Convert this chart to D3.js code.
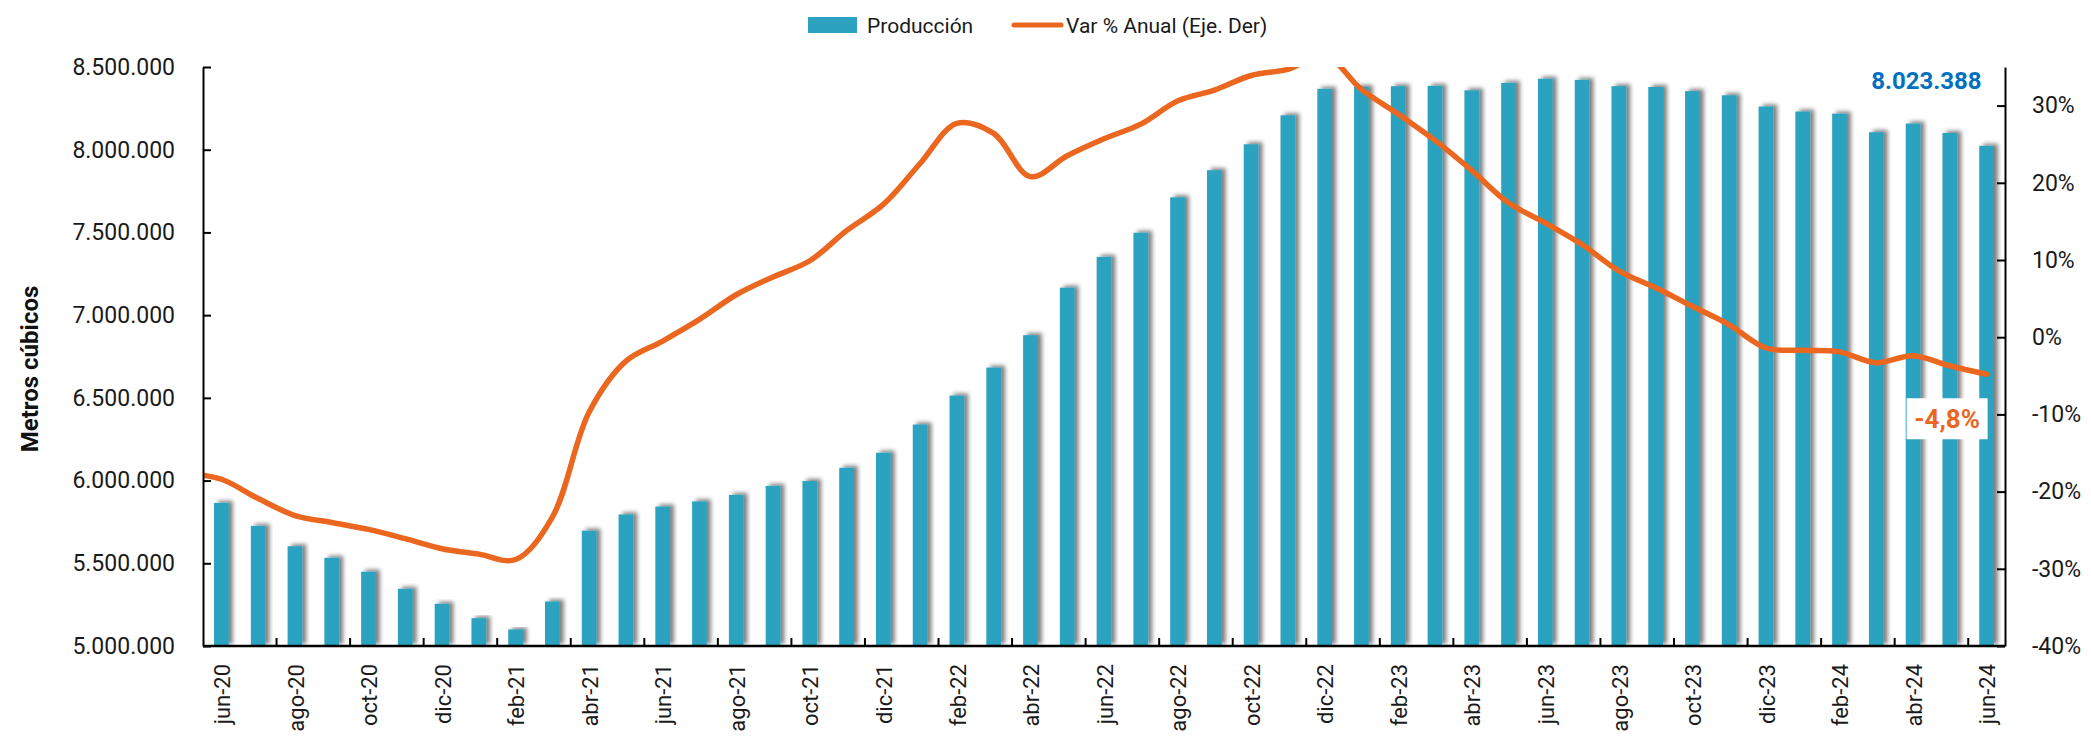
<!DOCTYPE html>
<html><head><meta charset="utf-8">
<script src="https://cdn.jsdelivr.net/npm/d3@7"></script>
<style>
html,body{margin:0;padding:0;background:#fff;}
svg{display:block;}
text{font-family:Roboto, "DejaVu Sans", sans-serif;}
</style></head>
<body>
<svg id="chart" width="2091" height="737"></svg>
<script>
const months = ["jun-20","jul-20","ago-20","sep-20","oct-20","nov-20","dic-20","ene-21","feb-21","mar-21","abr-21","may-21",
"jun-21","jul-21","ago-21","sep-21","oct-21","nov-21","dic-21","ene-22","feb-22","mar-22","abr-22","may-22",
"jun-22","jul-22","ago-22","sep-22","oct-22","nov-22","dic-22","ene-23","feb-23","mar-23","abr-23","may-23",
"jun-23","jul-23","ago-23","sep-23","oct-23","nov-23","dic-23","ene-24","feb-24","mar-24","abr-24","may-24","jun-24"];

const produccion = [5865000,5726000,5603000,5533000,5449000,5346000,5255000,5168000,5100000,5269000,5697000,5795000,
5843000,5874000,5913000,5968000,5997000,6077000,6168000,6339000,6514000,6683000,6879000,7166000,
7352000,7498000,7712000,7876000,8033000,8208000,8368000,8379000,8384000,8386000,8359000,8404000,
8429000,8422000,8384000,8379000,8354000,8329000,8261000,8231000,8218000,8106000,8158000,8101000,8023388];

// previous month (may-20), only partly visible at the left edge of the plot
const varAnualPrev = -17.6;
const varAnual = [-18.4,-20.9,-23.1,-24.0,-24.9,-26.1,-27.4,-28.1,-28.8,-23.3,-9.7,-3.1,
-0.5,2.3,5.5,7.8,9.9,13.8,17.2,22.5,27.7,26.4,20.8,23.5,
25.7,27.6,30.6,32.0,33.9,34.7,36.5,32.1,28.9,25.5,21.6,17.4,
14.8,12.0,8.6,6.4,4.0,1.6,-1.4,-1.7,-1.9,-3.3,-2.4,-3.7,-4.8];

const leftTicks = [5000000,5500000,6000000,6500000,7000000,7500000,8000000,8500000];
const rightTicks = [-40,-30,-20,-10,0,10,20,30];
const xLabelMonths = months.filter((d,i)=>i%2===0);

const legendItems = ["Producción","Var % Anual (Eje. Der)"];
const yTitle = "Metros cúbicos";
const lastValueLabel = "8.023.388";
const lastVarLabel = "-4,8%";

const barColor = "#2CA2C0";
const lineColor = "#EB661E";
const textColor = "#1a1a1a";

const M = {left:203, right:2005, top:67, bottom:646};

const svg = d3.select("#chart");

const defs = svg.append("defs");
const f = defs.append("filter").attr("id","shadow").attr("x","-50%").attr("y","-10%").attr("width","200%").attr("height","120%");
f.append("feDropShadow").attr("dx",4).attr("dy",-2).attr("stdDeviation",2.2)
  .attr("flood-color","#000").attr("flood-opacity",0.5);
defs.append("clipPath").attr("id","plotclip").append("rect")
  .attr("x",M.left).attr("y",M.top).attr("width",M.right-M.left).attr("height",M.bottom-M.top);

const x = d3.scaleBand().domain(months).range([M.left,M.right]).paddingInner(0.6).paddingOuter(0.3);
const yL = d3.scaleLinear().domain([5000000,8500000]).range([M.bottom,M.top]);
const yR = d3.scaleLinear().domain([-40,35]).range([M.bottom,M.top]);

const fmtL = d => d3.format(",")(d).replace(/,/g,".");
const fmtR = d => d + "%";

// bars
svg.append("g").selectAll("rect").data(produccion).join("rect")
  .attr("x",(d,i)=>x(months[i]))
  .attr("y",d=>yL(d))
  .attr("width",x.bandwidth())
  .attr("height",d=>yL(5000000)-yL(d))
  .attr("fill",barColor)
  .attr("filter","url(#shadow)");

// line (with the previous month one step to the left of jun-20)
const lineData = [varAnualPrev].concat(varAnual);
const cx0 = x(months[0]) + x.bandwidth()/2;
const line = d3.line()
  .x((d,i)=>cx0 + (i-1)*x.step())
  .y(d=>yR(d))
  .curve(d3.curveCatmullRom.alpha(0.5));
svg.append("path").datum(lineData)
  .attr("d",line)
  .attr("fill","none")
  .attr("stroke",lineColor)
  .attr("stroke-width",5.5)
  .attr("stroke-linejoin","round")
  .attr("stroke-linecap","round")
  .attr("clip-path","url(#plotclip)");

// left axis
const axL = d3.axisLeft(yL).tickValues(leftTicks).tickFormat(fmtL).tickSizeInner(-8).tickSizeOuter(0).tickPadding(28);
const gL = svg.append("g").attr("transform",`translate(${M.left},0)`).call(axL);
gL.select(".domain").attr("stroke","#000").attr("stroke-width",2);
gL.selectAll(".tick line").attr("stroke","#000").attr("stroke-width",2);
gL.selectAll(".tick text").attr("font-size",23).attr("font-family","Roboto").attr("fill",textColor);

// right axis
const axR = d3.axisRight(yR).tickValues(rightTicks).tickFormat(fmtR).tickSizeInner(-8).tickSizeOuter(0).tickPadding(27);
const gR = svg.append("g").attr("transform",`translate(${M.right},0)`).call(axR);
gR.select(".domain").attr("stroke","#000").attr("stroke-width",2);
gR.selectAll(".tick line").attr("stroke","#000").attr("stroke-width",2);
gR.selectAll(".tick text").attr("font-size",23).attr("font-family","Roboto").attr("fill",textColor);

// bottom axis: line + ticks every 2 categories at band boundaries
const gB = svg.append("g");
gB.append("line").attr("x1",M.left).attr("x2",M.right).attr("y1",M.bottom).attr("y2",M.bottom)
  .attr("stroke","#000").attr("stroke-width",2.5);
const boundaryMonths = months.filter((d,i)=>i>0 && i%2===0);
gB.selectAll("line.tk").data(boundaryMonths).join("line").attr("class","tk")
  .attr("x1",d=>x(d)-x.step()*x.paddingInner()/2).attr("x2",d=>x(d)-x.step()*x.paddingInner()/2)
  .attr("y1",M.bottom).attr("y2",M.bottom-8)
  .attr("stroke","#000").attr("stroke-width",2);
gB.selectAll("text").data(xLabelMonths).join("text")
  .attr("transform",d=>`translate(${x(d)+x.bandwidth()/2+1},${M.bottom+18}) rotate(-90)`)
  .attr("text-anchor","end")
  .attr("dy","0.35em")
  .attr("font-size",22)
  .attr("fill",textColor)
  .text(d=>d);

// y title
svg.append("text")
  .attr("transform",`translate(38,369) rotate(-90)`)
  .attr("text-anchor","middle")
  .attr("font-family","'Open Sans', Roboto, sans-serif")
  .attr("font-weight",700)
  .attr("font-size",24)
  .attr("fill","#111")
  .text(yTitle);

// legend
const lg = svg.append("g");
lg.append("rect").attr("x",808).attr("y",17).attr("width",49).attr("height",16).attr("fill",barColor);
lg.append("text").attr("x",867).attr("y",33).attr("font-size",21).attr("fill",textColor).text(legendItems[0]);
lg.append("line").attr("x1",1014).attr("x2",1061).attr("y1",25).attr("y2",25)
  .attr("stroke",lineColor).attr("stroke-width",5).attr("stroke-linecap","round");
lg.append("text").attr("x",1066).attr("y",33).attr("font-size",21).attr("fill",textColor).text(legendItems[1]);

// annotations
const lastI = months.length-1;
const lastX = x(months[lastI]) + x.bandwidth()/2;
svg.append("text")
  .attr("x",lastX-5).attr("y",yL(produccion[lastI])-57)
  .attr("text-anchor","end")
  .attr("font-weight",700).attr("font-size",24)
  .attr("fill","#0070C0")
  .text(lastValueLabel);

const boxY = yR(varAnual[lastI]) + 44;
svg.append("rect").attr("x",lastX-80).attr("y",boxY-20).attr("width",81).attr("height",41).attr("fill","#fff");
svg.append("text")
  .attr("x",lastX-39.5).attr("y",boxY)
  .attr("text-anchor","middle").attr("dy","0.36em")
  .attr("font-weight",700).attr("font-size",26)
  .attr("fill",lineColor)
  .text(lastVarLabel);
</script>
</body></html>
